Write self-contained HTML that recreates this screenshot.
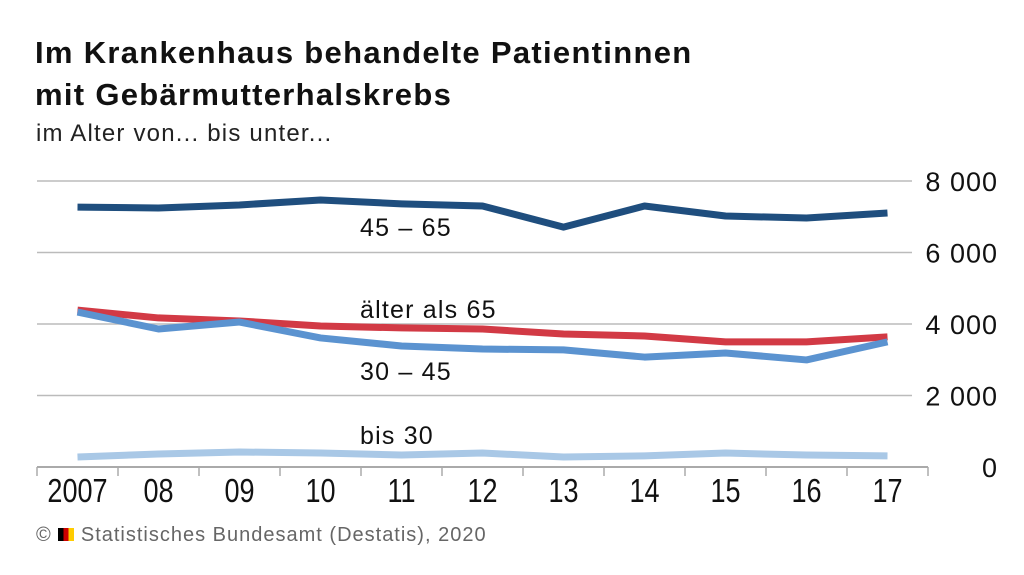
<!DOCTYPE html>
<html><head><meta charset="utf-8"><style>
body{margin:0;width:1024px;height:575px;background:#fff;font-family:"Liberation Sans",sans-serif;overflow:hidden}
.t{position:absolute;left:35px;font-weight:bold;font-size:31px;color:#111;letter-spacing:1.3px;line-height:42px}
</style></head><body>
<div class="t" style="top:32px">Im Krankenhaus behandelte Patientinnen<br>mit Gebärmutterhalskrebs</div>
<div style="position:absolute;left:36px;top:120px;font-size:24px;color:#222;letter-spacing:1.2px">im Alter von... bis unter...</div>
<svg id="c" width="1024" height="575" style="position:absolute;left:0;top:0"></svg>
<div style="position:absolute;left:36px;top:524px;font-size:20px;color:#666;letter-spacing:1px">© <span style="display:inline-block;width:16px;height:13px;background:linear-gradient(90deg,#000 0 33%,#c00 33% 66%,#fc0 66%)"></span> Statistisches Bundesamt (Destatis), 2020</div>
<script>
const years=["2007","08","09","10","11","12","13","14","15","16","17"];
const yTicks=[0,2000,4000,6000,8000];
const yTickLabels=["0","2 000","4 000","6 000","8 000"];
const s4565=[7270,7245,7330,7470,7360,7300,6710,7300,7020,6965,7105];
const sOver65=[4390,4170,4085,3945,3890,3860,3720,3665,3500,3500,3640];
const s3045=[4335,3860,4055,3610,3385,3300,3275,3075,3190,2995,3500];
const sUnder30=[280,365,420,390,335,390,280,310,390,335,310];
const series=[
 {name:"45-65",v:s4565,c:"#1f4e7e"},
 {name:"over-65",v:sOver65,c:"#d23a45"},
 {name:"30-45",v:s3045,c:"#5b93d0"},
 {name:"under-30",v:sUnder30,c:"#a9c8e6"}];
const labels=[["45 – 65",236],["älter als 65",318],["30  – 45",380],["bis 30",444]];
const NS="http://www.w3.org/2000/svg",svg=document.getElementById('c');
const x0=37,x1=928,step=(x1-x0)/years.length;
const X=i=>x0+step*(i+0.5), Y=v=>467-v*(286/8000);
function mk(t,a){const e=document.createElementNS(NS,t);for(const k in a)e.setAttribute(k,a[k]);svg.appendChild(e);return e;}
yTicks.forEach((v,i)=>{
 if(v>0){const g=mk('line',{x1:x0,x2:912,y1:Y(v),y2:Y(v),stroke:'#bbb','stroke-width':1.5});
 
 }
 const t=mk('text',{x:998,y:Y(v)+10,'text-anchor':'end','font-size':27,fill:'#111','letter-spacing':1});t.textContent=yTickLabels[i];
 
 
});
const ax=mk('line',{x1:x0,x2:x1,y1:467,y2:467,stroke:'#aaa','stroke-width':2});


for(let i=0;i<=years.length;i++){const k=mk('line',{x1:x0+step*i,x2:x0+step*i,y1:467,y2:476,stroke:'#aaa','stroke-width':1.5});
 
 }
years.forEach((y,i)=>{const t=mk('text',{x:0,y:0,'text-anchor':'middle','font-size':33,fill:'#111',transform:`translate(${X(i)},502) scale(0.82,1)`});t.textContent=y;
 
 });
series.forEach(s=>{const p=mk('polyline',{points:s.v.map((v,i)=>X(i)+','+Y(v)).join(' '),fill:'none',stroke:s.c,'stroke-width':7,'stroke-linejoin':'round'});
 
 });
labels.forEach(l=>{const t=mk('text',{x:360,y:l[1],'font-size':25,fill:'#111','letter-spacing':1.2});t.textContent=l[0];
 
 });
</script>
</body></html>
